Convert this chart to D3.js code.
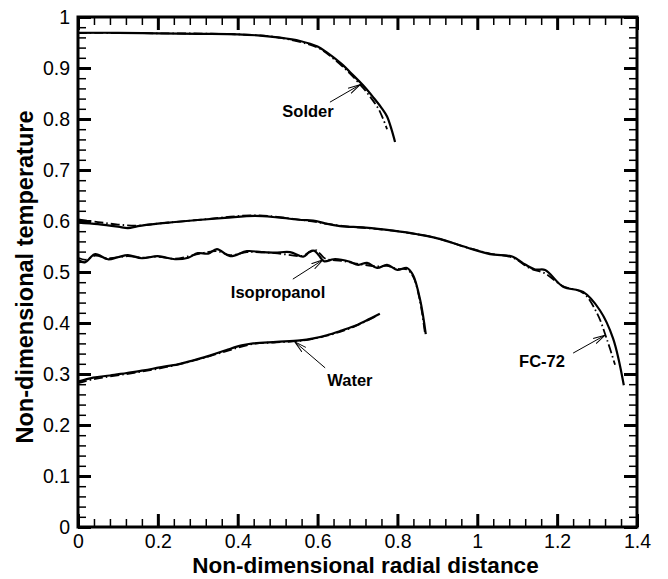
<!DOCTYPE html>
<html>
<head>
<meta charset="utf-8">
<script src="https://d3js.org/d3.v7.min.js"></script>
<style>
  body { margin: 0; background: #fff; }
  text { font-family: "Liberation Sans", Arial, Helvetica, sans-serif; }
</style>
</head>
<body>
<div id="graph"></div>
<script>
// temperature profiles, solid = one run, dash-dot = the other
const solderSolid = [[0,0.969],[0.1,0.969],[0.2,0.968],[0.3,0.967],[0.4,0.966],[0.45,0.964],[0.5,0.960],[0.556,0.953],[0.6,0.942],[0.624,0.930],[0.66,0.908],[0.69,0.885],[0.714,0.866],[0.74,0.842],[0.76,0.822],[0.774,0.805],[0.785,0.780],[0.794,0.755]];
const solderDash = [[0,0.969],[0.2,0.968],[0.4,0.966],[0.5,0.960],[0.6,0.940],[0.64,0.918],[0.68,0.890],[0.714,0.861],[0.735,0.840],[0.754,0.818],[0.774,0.780]];

const fc72Solid = [[0,0.597],[0.05,0.594],[0.1,0.589],[0.125,0.586],[0.15,0.590],[0.2,0.595],[0.243,0.598],[0.3,0.602],[0.368,0.606],[0.443,0.610],[0.5,0.607],[0.56,0.602],[0.589,0.601],[0.62,0.595],[0.656,0.590],[0.72,0.587],[0.789,0.581],[0.85,0.574],[0.9,0.566],[0.974,0.548],[1.032,0.535],[1.089,0.530],[1.115,0.517],[1.145,0.505],[1.17,0.504],[1.215,0.471],[1.265,0.461],[1.307,0.425],[1.34,0.370],[1.367,0.278]];
const fc72Dash = [[0,0.603],[0.05,0.598],[0.1,0.593],[0.15,0.591],[0.2,0.595],[0.3,0.602],[0.443,0.611],[0.56,0.602],[0.656,0.591],[0.789,0.581],[0.9,0.566],[0.974,0.548],[1.032,0.536],[1.089,0.528],[1.13,0.508],[1.17,0.497],[1.215,0.472],[1.265,0.459],[1.30,0.419],[1.325,0.367],[1.345,0.318]];

const isoSolid = [[0,0.524],[0.017,0.519],[0.043,0.535],[0.075,0.525],[0.1,0.529],[0.125,0.533],[0.16,0.527],[0.2,0.531],[0.243,0.525],[0.276,0.528],[0.30,0.537],[0.326,0.536],[0.348,0.545],[0.381,0.531],[0.423,0.541],[0.46,0.539],[0.493,0.538],[0.531,0.539],[0.564,0.530],[0.578,0.538],[0.591,0.542],[0.603,0.533],[0.616,0.521],[0.64,0.525],[0.66,0.524],[0.681,0.520],[0.702,0.514],[0.724,0.518],[0.749,0.508],[0.774,0.514],[0.80,0.504],[0.824,0.508],[0.839,0.494],[0.857,0.445],[0.871,0.378]];
const isoDash = [[0,0.528],[0.02,0.524],[0.043,0.532],[0.075,0.527],[0.125,0.531],[0.16,0.528],[0.2,0.530],[0.243,0.526],[0.30,0.535],[0.348,0.541],[0.381,0.533],[0.423,0.539],[0.493,0.537],[0.564,0.532],[0.580,0.540],[0.593,0.544],[0.606,0.536],[0.620,0.526],[0.66,0.522],[0.702,0.516],[0.749,0.511],[0.774,0.512],[0.80,0.506],[0.824,0.505],[0.84,0.490],[0.856,0.445],[0.869,0.380]];

const waterSolid = [[0,0.285],[0.038,0.293],[0.08,0.297],[0.122,0.302],[0.165,0.307],[0.205,0.313],[0.25,0.319],[0.289,0.327],[0.33,0.336],[0.372,0.347],[0.41,0.356],[0.439,0.360],[0.497,0.363],[0.556,0.366],[0.59,0.370],[0.623,0.376],[0.656,0.384],[0.689,0.393],[0.72,0.404],[0.756,0.418]];
const waterDash = [[0,0.282],[0.04,0.290],[0.122,0.300],[0.205,0.311],[0.289,0.326],[0.372,0.345],[0.439,0.359],[0.497,0.362],[0.556,0.365],[0.623,0.375],[0.689,0.392],[0.75,0.415]];

// label text, where it sits and where its arrow points (data units)
const labelNames = ["Solder", "Isopropanol", "Water", "FC-72"];
const labelAt = [[0.576,0.804],[0.501,0.449],[0.681,0.276],[1.162,0.314]];
const arrowFrom = [[0.631,0.833],[0.538,0.486],[0.619,0.312],[1.240,0.341]];
const arrowTo = [[0.706,0.867],[0.614,0.524],[0.543,0.363],[1.320,0.376]];

const margin = {top: 17, right: 31, bottom: 52, left: 78},
    width = 668 - margin.left - margin.right,
    height = 579 - margin.top - margin.bottom;

const svg = d3.select("#graph")
    .append("svg")
    .attr("width", 668)
    .attr("height", 579)
    .append("g")
    .attr("transform", `translate(${margin.left}, ${margin.top})`);

const x = d3.scaleLinear().domain([0, 1.4]).range([0, width]);
const y = d3.scaleLinear().domain([0, 1]).range([height, 0]);

const xMinor = d3.range(0, 1.4001, 0.04);
const yMinor = d3.range(0, 1.0001, 0.02);
const fmt = d3.format("~g");

// minor ticks, all four sides, pointing in
const minorStyle = g => { g.select(".domain").remove(); g.selectAll("line").attr("stroke-width", 1.5); g.selectAll("text").remove(); };
svg.append("g").attr("transform", `translate(0,${height})`)
    .call(d3.axisBottom(x).tickValues(xMinor).tickSizeInner(-8).tickSizeOuter(0)).call(minorStyle);
svg.append("g")
    .call(d3.axisTop(x).tickValues(xMinor).tickSizeInner(-8).tickSizeOuter(0)).call(minorStyle);
svg.append("g")
    .call(d3.axisLeft(y).tickValues(yMinor).tickSizeInner(-8).tickSizeOuter(0)).call(minorStyle);
svg.append("g").attr("transform", `translate(${width},0)`)
    .call(d3.axisRight(y).tickValues(yMinor).tickSizeInner(-8).tickSizeOuter(0)).call(minorStyle);

// major ticks
const majorStyle = g => { g.select(".domain").remove(); g.selectAll("line").attr("stroke-width", 3); g.selectAll("text").attr("font-size", 19.5).attr("fill", "#000"); };
svg.append("g").attr("transform", `translate(0,${height})`)
    .call(d3.axisBottom(x).ticks(7).tickFormat(fmt).tickSizeInner(-13).tickSizeOuter(0).tickPadding(7)).call(majorStyle);
svg.append("g")
    .call(d3.axisTop(x).ticks(7).tickFormat("").tickSizeInner(-13).tickSizeOuter(0)).call(majorStyle);
svg.append("g")
    .call(d3.axisLeft(y).ticks(10).tickFormat(fmt).tickSizeInner(-13).tickSizeOuter(0).tickPadding(8)).call(majorStyle);
svg.append("g").attr("transform", `translate(${width},0)`)
    .call(d3.axisRight(y).ticks(10).tickFormat("").tickSizeInner(-13).tickSizeOuter(0)).call(majorStyle);

// frame
svg.append("rect")
    .attr("width", width).attr("height", height)
    .attr("fill", "none").attr("stroke", "#000").attr("stroke-width", 3);

const line = d3.line()
    .x(d => x(d[0]))
    .y(d => y(d[1]))
    .curve(d3.curveCatmullRom);

[solderDash, fc72Dash, isoDash, waterDash].forEach(s => {
    svg.append("path").datum(s)
        .attr("d", line)
        .attr("fill", "none").attr("stroke", "#000")
        .attr("stroke-width", 1.8)
        .attr("stroke-dasharray", "9,3,1.5,3");
});
[solderSolid, fc72Solid, isoSolid, waterSolid].forEach(s => {
    svg.append("path").datum(s)
        .attr("d", line)
        .attr("fill", "none").attr("stroke", "#000")
        .attr("stroke-width", 2.2);
});

// arrow head
svg.append("defs").append("marker")
    .attr("id", "arr")
    .attr("viewBox", "0 0 12 8")
    .attr("refX", 12).attr("refY", 4)
    .attr("markerWidth", 12).attr("markerHeight", 8)
    .attr("markerUnits", "userSpaceOnUse")
    .attr("orient", "auto")
    .append("path")
    .attr("d", "M0,1 L12,4 L0,7")
    .attr("fill", "none").attr("stroke", "#000").attr("stroke-width", 1);

labelNames.forEach((name, i) => {
    svg.append("line")
        .attr("x1", x(arrowFrom[i][0])).attr("y1", y(arrowFrom[i][1]))
        .attr("x2", x(arrowTo[i][0])).attr("y2", y(arrowTo[i][1]))
        .attr("stroke", "#000").attr("stroke-width", 1)
        .attr("marker-end", "url(#arr)");
    svg.append("text")
        .attr("x", x(labelAt[i][0])).attr("y", y(labelAt[i][1]))
        .attr("text-anchor", "middle")
        .attr("font-size", 16.5).attr("font-weight", "bold")
        .text(name);
});

// axis titles
svg.append("text")
    .attr("x", width / 2 + 8)
    .attr("y", height + 46)
    .attr("text-anchor", "middle")
    .attr("font-size", 22.5).attr("font-weight", "bold")
    .text("Non-dimensional radial distance");

svg.append("text")
    .attr("transform", "rotate(-90)")
    .attr("x", -(277 - margin.top))
    .attr("y", 33 - margin.left)
    .attr("text-anchor", "middle")
    .attr("font-size", 23.5).attr("font-weight", "bold")
    .text("Non-dimensional temperature");
</script>
</body>
</html>
